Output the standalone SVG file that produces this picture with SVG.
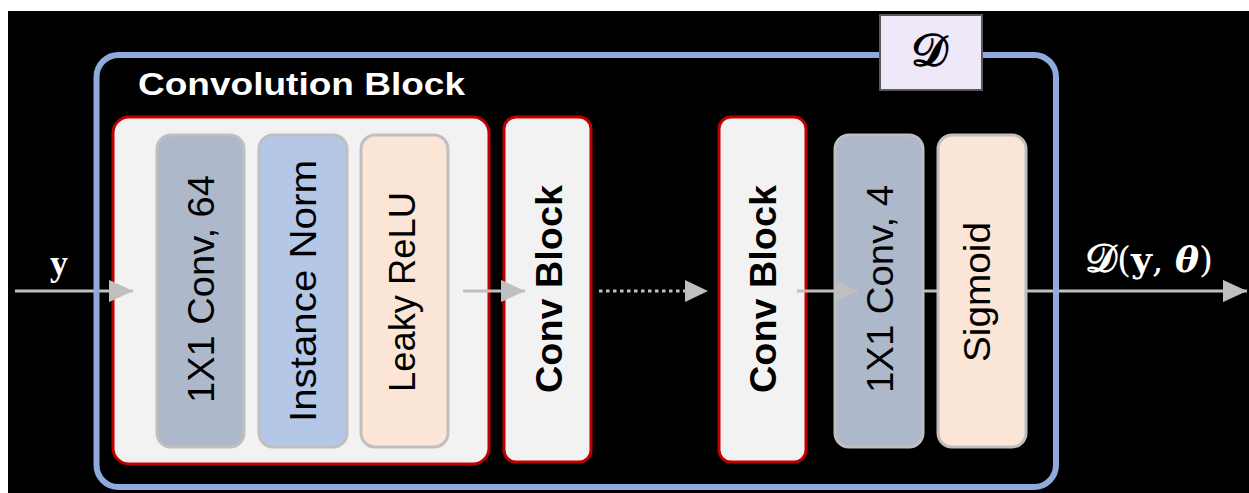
<svg xmlns="http://www.w3.org/2000/svg" width="1249" height="493" viewBox="0 0 1249 493">
<style>
.red{fill:#F2F2F2;stroke:#C00000;stroke-width:3}
.sub{stroke:#BFBFBF;stroke-width:3}
.lbl{font-family:"Liberation Sans",Arial,sans-serif;font-size:36px;fill:#000;text-anchor:middle}
.bold{font-weight:bold}
.conn{stroke:#BFBFBF;stroke-width:3;fill:none}
.head{fill:#BFBFBF}
</style>
<defs>
<marker id="ah" markerWidth="8" markerHeight="7.4" refX="8" refY="3.7" orient="auto" markerUnits="strokeWidth">
<path d="M0,0 L8,3.7 L0,7.4 Z" fill="#BFBFBF"/>
</marker>
</defs>
<rect x="8" y="11" width="1241" height="482" fill="#000"/>
<g id="title">
<text x="138" y="95" font-family="'Liberation Sans',Arial,sans-serif" font-size="31" font-weight="bold" fill="#fff" textLength="327" lengthAdjust="spacingAndGlyphs">Convolution Block</text>
</g>
<g id="conv-block-group">
<rect class="red" x="113" y="117" width="376" height="347" rx="16"/>
</g>
<g id="conv64">
<rect class="sub" x="157" y="135" width="87" height="312" rx="14" fill="#ADB9CA"/>
<text class="lbl" transform="translate(214,289) rotate(-90)" textLength="228" lengthAdjust="spacingAndGlyphs">1X1 Conv, 64</text>
</g>
<g id="instnorm">
<rect class="sub" x="259" y="135" width="88" height="312" rx="14" fill="#B4C7E7"/>
<text class="lbl" transform="translate(316,291) rotate(-90)" textLength="262" lengthAdjust="spacingAndGlyphs">Instance Norm</text>
</g>
<g id="lrelu">
<rect class="sub" x="361" y="135" width="87" height="312" rx="14" fill="#FBE5D6"/>
<text class="lbl" transform="translate(415,292) rotate(-90)" textLength="200" lengthAdjust="spacingAndGlyphs">Leaky ReLU</text>
</g>
<g id="convblock1">
<rect class="red" x="504" y="117" width="87" height="345" rx="12"/>
<text class="lbl bold" transform="translate(562,289) rotate(-90)" textLength="208" lengthAdjust="spacingAndGlyphs">Conv Block</text>
</g>
<g id="convblock2">
<rect class="red" x="719" y="117" width="87" height="345" rx="12"/>
<text class="lbl bold" transform="translate(776,289) rotate(-90)" textLength="208" lengthAdjust="spacingAndGlyphs">Conv Block</text>
</g>
<g id="conv4">
<rect class="sub" x="835" y="135" width="88" height="312" rx="14" fill="#ADB9CA"/>
<text class="lbl" transform="translate(893,289) rotate(-90)" textLength="208" lengthAdjust="spacingAndGlyphs">1X1 Conv, 4</text>
</g>
<g id="sigmoid">
<rect class="sub" x="938" y="135" width="88" height="312" rx="14" fill="#FBE5D6"/>
<text class="lbl" transform="translate(990,292) rotate(-90)" textLength="140" lengthAdjust="spacingAndGlyphs">Sigmoid</text>
</g>
<g id="connectors">
<line class="conn" x1="15" y1="291" x2="133" y2="291" marker-end="url(#ah)"/>
<line class="conn" x1="463" y1="291" x2="525" y2="291" marker-end="url(#ah)"/>
<line class="conn" x1="599" y1="291" x2="686" y2="291" stroke-dasharray="3.5 3.5"/>
<path class="head" d="M685,280 L708,291 L685,302 Z"/>
<line class="conn" x1="797" y1="291" x2="858" y2="291" marker-end="url(#ah)"/>
<line class="conn" x1="923" y1="291" x2="938" y2="291"/>
<line class="conn" x1="1026" y1="291" x2="1247" y2="291" marker-end="url(#ah)"/>
</g>
<g id="frame">
<rect x="96.5" y="55" width="959.5" height="432" rx="22" fill="none" stroke="#8FAADC" stroke-width="6"/>
</g>
<g id="d-label">
<rect x="880" y="15" width="102" height="75" fill="#EFE8F8" stroke="#595959" stroke-width="2"/>
<text x="929" y="66" text-anchor="middle" font-family="'DejaVu Serif','Liberation Serif',serif" font-size="46" font-weight="bold" fill="#000">𝒟</text>
</g>
<g id="io-labels">
<text x="59" y="275" text-anchor="middle" font-family="'Liberation Serif',serif" font-size="36" font-weight="bold" fill="#fff">y</text>
<text x="1085" y="272" font-family="'DejaVu Serif','Liberation Serif',serif" font-size="36" fill="#fff" textLength="128" lengthAdjust="spacingAndGlyphs"><tspan font-size="40" font-weight="bold">𝒟</tspan>(<tspan font-weight="bold">y</tspan>, <tspan font-weight="bold" font-style="italic">θ</tspan>)</text>
</g>
</svg>
